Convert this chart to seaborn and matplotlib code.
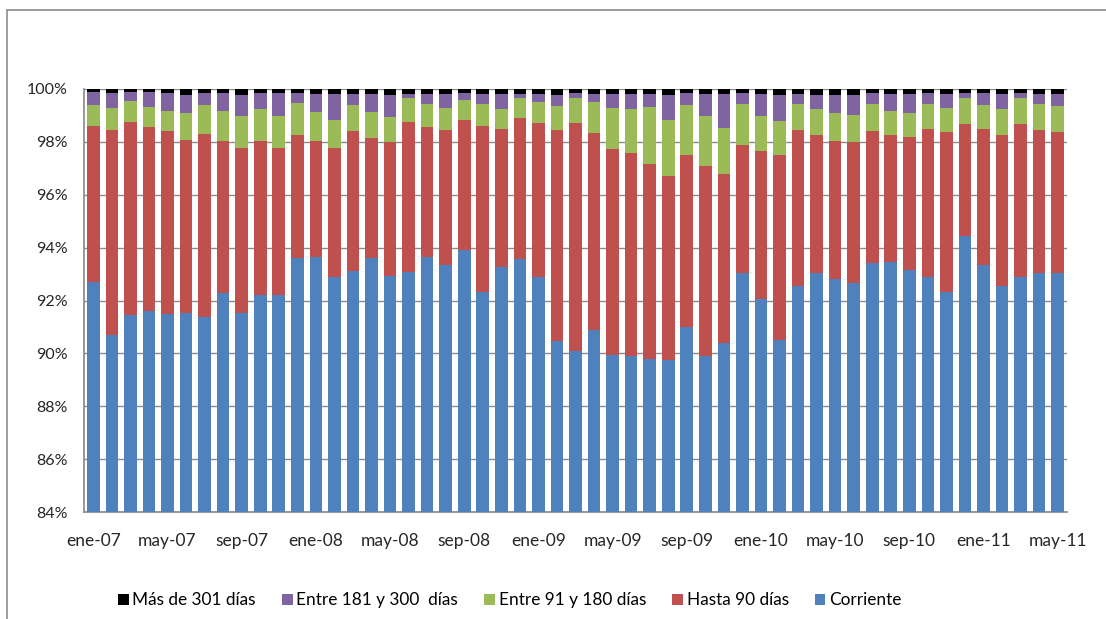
import numpy as np
import pandas as pd
import matplotlib
matplotlib.use("Agg")
import matplotlib.pyplot as plt
from matplotlib.patches import Rectangle
import seaborn as sns

months = ["ene", "feb", "mar", "abr", "may", "jun", "jul", "ago", "sep", "oct", "nov", "dic"]
periods = [f"{m}-{y:02d}" for y in range(7, 12) for m in months][:53]

corriente = [92.69, 90.70, 91.44, 91.59, 91.49, 91.54, 91.39, 92.27, 91.54, 92.21, 92.21, 93.61,
             93.66, 92.88, 93.13, 93.59, 92.94, 93.09, 93.66, 93.34, 93.92, 92.31, 93.25, 93.56,
             92.88, 90.46, 90.09, 90.87, 89.94, 89.89, 89.79, 89.74, 90.99, 89.89, 90.41, 93.04,
             92.06, 90.51, 92.54, 93.04, 92.83, 92.68, 93.41, 93.46, 93.14, 92.88, 92.31, 94.44,
             93.34, 92.54, 92.88, 93.04, 93.04]
hasta_90 = [5.92, 7.76, 7.32, 6.97, 6.91, 6.54, 6.92, 5.78, 6.24, 5.84, 5.57, 4.64,
            4.39, 4.90, 5.27, 4.56, 5.05, 5.67, 4.90, 5.12, 4.89, 6.30, 5.25, 5.36,
            5.83, 8.00, 8.62, 7.48, 7.79, 7.69, 7.39, 6.96, 6.53, 7.21, 6.39, 4.85,
            5.61, 7.01, 5.92, 5.21, 5.22, 5.31, 4.99, 4.79, 5.06, 5.62, 6.05, 4.22,
            5.16, 5.71, 5.78, 5.42, 5.32]
entre_91_180 = [0.78, 0.83, 0.79, 0.77, 0.78, 1.01, 1.08, 1.13, 1.20, 1.19, 1.20, 1.21,
                1.08, 1.05, 0.99, 0.98, 0.94, 0.90, 0.89, 0.83, 0.79, 0.84, 0.74, 0.74,
                0.79, 0.88, 0.95, 1.15, 1.55, 1.65, 2.15, 2.13, 1.87, 1.88, 1.71, 1.56,
                1.31, 1.26, 0.99, 0.99, 1.04, 1.04, 1.05, 0.93, 0.89, 0.95, 0.93, 1.00,
                0.89, 0.99, 1.00, 0.99, 0.98]
entre_181_300 = [0.51, 0.56, 0.35, 0.57, 0.67, 0.67, 0.46, 0.67, 0.78, 0.61, 0.87, 0.39,
                 0.68, 0.98, 0.42, 0.68, 0.83, 0.15, 0.36, 0.52, 0.25, 0.36, 0.57, 0.15,
                 0.31, 0.42, 0.19, 0.31, 0.53, 0.58, 0.48, 0.93, 0.46, 0.83, 1.30, 0.40,
                 0.83, 0.98, 0.36, 0.52, 0.67, 0.73, 0.40, 0.63, 0.72, 0.40, 0.52, 0.19,
                 0.46, 0.57, 0.19, 0.36, 0.47]
mas_301 = [0.10, 0.15, 0.10, 0.10, 0.15, 0.24, 0.15, 0.15, 0.24, 0.15, 0.15, 0.15,
           0.19, 0.19, 0.19, 0.19, 0.24, 0.19, 0.19, 0.19, 0.15, 0.19, 0.19, 0.19,
           0.19, 0.24, 0.15, 0.19, 0.19, 0.19, 0.19, 0.24, 0.15, 0.19, 0.19, 0.15,
           0.19, 0.24, 0.19, 0.24, 0.24, 0.24, 0.15, 0.19, 0.19, 0.15, 0.19, 0.15,
           0.15, 0.19, 0.15, 0.19, 0.19]

series_names = ["Corriente", "Hasta 90 días", "Entre 91 y 180 días", "Entre 181 y 300  días", "Más de 301 días"]
series_values = [corriente, hasta_90, entre_91_180, entre_181_300, mas_301]
colors = ["#4F81BD", "#C0504D", "#9BBB59", "#8064A2", "#000000"]
y_ticks = [84, 86, 88, 90, 92, 94, 96, 98, 100]

sns.set_theme(style="white")
plt.rcParams["font.family"] = ["Lato", "DejaVu Sans"]

df = pd.DataFrame({name: vals for name, vals in zip(series_names, series_values)})
df["periodo"] = periods
cum = df[series_names].cumsum(axis=1)

W, H = 1106, 619
fig = plt.figure(figsize=(W / 100, H / 100), dpi=100)
ax = fig.add_axes([84 / W, 107 / H, (1067 - 84) / W, (512 - 89) / H])

# draw cumulative totals from the top layer down so each layer overlaps the previous
for name, color in reversed(list(zip(series_names, colors))):
    plot_df = pd.DataFrame({"periodo": periods, "valor": cum[name].values})
    sns.barplot(data=plot_df, x="periodo", y="valor", color=color, width=0.68,
                ax=ax, zorder=3, linewidth=0, saturation=1)

ax.set_ylim(84, 100)
ax.set_xlim(-0.5, len(periods) - 0.5)
ax.set_yticks(y_ticks)
ax.set_yticklabels([f"{t}%" for t in y_ticks], fontsize=11.5)
xt = list(range(0, len(periods), 4))
ax.set_xticks(xt)
ax.set_xticklabels([periods[i] for i in xt], fontsize=12.5)
ax.set_xlabel("")
ax.set_ylabel("")
ax.grid(axis="y", color="#8C8C8C", linewidth=1.0, zorder=0)
ax.set_axisbelow(True)
for s in ["top", "right"]:
    ax.spines[s].set_visible(False)
ax.spines["left"].set_color("#8C8C8C")
ax.spines["bottom"].set_color("#8C8C8C")
ax.tick_params(axis="x", length=0, pad=15)
ax.tick_params(axis="y", length=0, pad=12)

# legend (order: top layer first) laid out on one baseline with uniform gaps
renderer = fig.canvas.get_renderer()
x = 118.0
leg_baseline = 605
sq = 10.5
for name, color in reversed(list(zip(series_names, colors))):
    fig.patches.append(Rectangle((x / W, 1 - (leg_baseline - 0.5) / H), sq / W, sq / H,
                                 transform=fig.transFigure, facecolor=color, edgecolor="none"))
    t = fig.text((x + sq + 4) / W, 1 - leg_baseline / H, name, fontsize=12.4,
                 va="baseline", ha="left", color="#000000")
    wpx = t.get_window_extent(renderer=renderer).width
    x = x + sq + 4 + wpx + 26

fig.patches.append(Rectangle((7 / W, -0.05), 1.2, 1 - 10 / H + 0.05,
                             transform=fig.transFigure, fill=False,
                             edgecolor="#8C8C8C", linewidth=1.2))

fig.savefig("out.png", dpi=100)
